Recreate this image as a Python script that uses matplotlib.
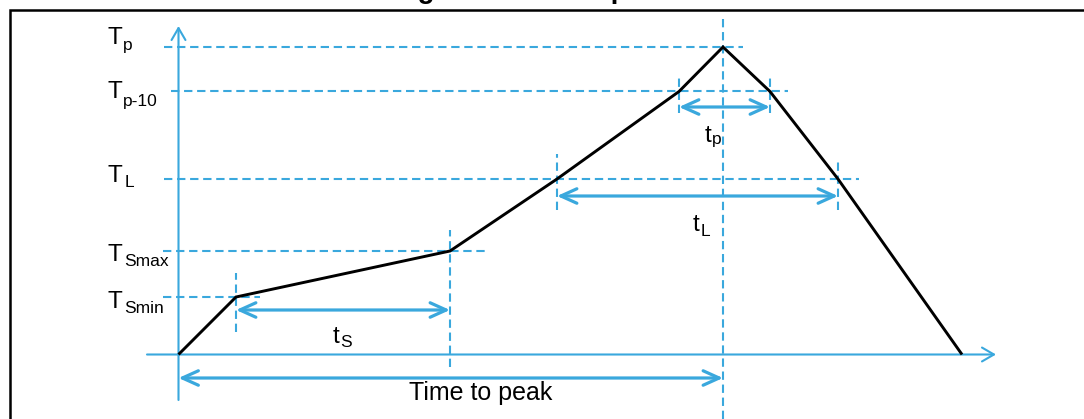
import matplotlib
matplotlib.use('Agg')
import matplotlib.pyplot as plt
from matplotlib.patches import FancyArrowPatch
from matplotlib.lines import Line2D

plt.rcParams['font.family'] = ['Liberation Sans', 'DejaVu Sans']
plt.rcParams['lines.scale_dashes'] = False

# ---------------- data (abstract time / temperature units) ----------------
profile_time = [0, 57.5, 271.5, 378.5, 500.5, 544.5, 591.5, 659.5, 783.5]
profile_temp = [0, 57.5, 103.5, 175.5, 263, 307.5, 263, 175.5, 0]

# temperature levels (label main, label subscript, value)
level_main = ['T', 'T', 'T', 'T', 'T']
level_sub = ['p', 'p-10', 'L', 'Smax', 'Smin']
level_value = [307.5, 263, 175.5, 103.5, 57.5]
# time where each level is crossed last on the profile (for dashed extent)
level_cross = [544.5, 591.5, 659.5, 271.5, 57.5]

# key time markers
t_smin, t_smax = 57.5, 271.5
t_L1, t_L2 = 378.5, 659.5
t_p1, t_peak, t_p2 = 500.5, 544.5, 591.5

# interval arrows: (start, end)
interval_names = ['S', 'L', 'p']
interval_start = [t_smin, t_L1, t_p1]
interval_end = [t_smax, t_L2, t_p2]

BLUE = '#3AA8DD'

fig = plt.figure(figsize=(10.84, 4.19), dpi=100)
ax = fig.add_axes([0, 0, 1, 1])
ax.set_xlim(-178.5, 905.5)
ax.set_ylim(-64.5, 354.5)
ax.axis('off')

dash_kw = dict(color=BLUE, lw=1.5, dashes=(6.0, 3.4))

# ---- horizontal dashed level lines ----
level_left = [-14.5, -7.5, -14.5, -15.5, -15.5]
level_pad = [20, 18, 21, 35, 24]
for v, c, l, p in zip(level_value, level_cross, level_left, level_pad):
    ax.plot([l, c + p], [v, v], **dash_kw)

# ---- vertical dashed markers ----
vert_times = [t_smin, t_smax, t_L1, t_L2, t_p1, t_p2, t_peak]
vert_top = [81.5, 124.5, 200.5, 192.5, 277.5, 277.5, 339.5]
vert_bot = [22.5, -12.5, 144.5, 144.5, 241.5, 241.5, -64.5]
for t, a, b in zip(vert_times, vert_top, vert_bot):
    ax.plot([t, t], [b, a], **dash_kw)

# ---- axes arrows ----
def arrow(p0, p1, style, lw):
    ar = FancyArrowPatch(p0, p1, arrowstyle=style, mutation_scale=1,
                         color=BLUE, lw=lw, shrinkA=0, shrinkB=0,
                         capstyle='round', joinstyle='round')
    ax.add_patch(ar)

arrow((0, -45.5), (0, 328.5), '->,head_length=8.6,head_width=5', 1.5)
arrow((-31.5, 0), (817.5, 0), '->,head_length=8.6,head_width=5', 1.5)

# ---- profile ----
ax.plot(profile_time, profile_temp, color='black', lw=2.1,
        solid_joinstyle='miter', solid_capstyle='butt', zorder=5)

# ---- interval arrows ----
interval_y = [44.5, 158.5, 247.5]
for s, e, y in zip(interval_start, interval_end, interval_y):
    arrow((s, y), (e, y), '<->,head_length=11.5,head_width=5.2', 2.3)
arrow((0, -23.5), (t_peak, -23.5), '<->,head_length=11.5,head_width=5.2', 2.3)

renderer = fig.canvas.get_renderer()

def sublabel(x, y, main, sub, size, subsize, dy, gap=1.0):
    t = ax.text(x, y, main, fontsize=size, ha='left', va='baseline', color='black')
    w = t.get_window_extent(renderer=renderer).width
    ax.annotate(sub, xy=(x, y), xytext=((w + gap) * 72 / 100, -dy * 72 / 100),
                textcoords='offset points', fontsize=subsize,
                ha='left', va='baseline', color='black')

# left level labels (x of T, baseline y, subscript drop in px)
label_x = [-71.5, -71.5, -70.5, -70.5, -70.5]
label_y = [310.5, 256.5, 172.5, 93.5, 46.5]
label_dy = [6, 8, 5, 5, 5]
for m, s, x, y, d in zip(level_main, level_sub, label_x, label_y, label_dy):
    sublabel(x, y, m, s, 17.5, 12.5, d, gap=1.5)

# interval labels
ilabel_x = [154.5, 514.5, 526.5]
ilabel_y = [11.5, 123.5, 212.5]
ilabel_dy = [4, 5, 2]
for n, x, y, d in zip(interval_names, ilabel_x, ilabel_y, ilabel_dy):
    sublabel(x, y, 't', n, 17.5, 12.5, d, gap=0.5)

ax.text(230.5, -45.5, 'Time to peak', fontsize=18, ha='left', va='baseline',
        color='black')

# ---- frame and clipped caption ----
fig.add_artist(Line2D([10 / 1084, 10 / 1084, 1.0],
                      [0.0, 1 - 10 / 419, 1 - 10 / 419],
                      transform=fig.transFigure, color='black', lw=1.8,
                      solid_joinstyle='miter'))
fig.text(393 / 1084, 1 + 2.0 / 419, 'Figure 7. Solder profile', fontsize=20,
         fontweight='bold', ha='left', va='baseline')

fig.savefig('out.png', dpi=100)
